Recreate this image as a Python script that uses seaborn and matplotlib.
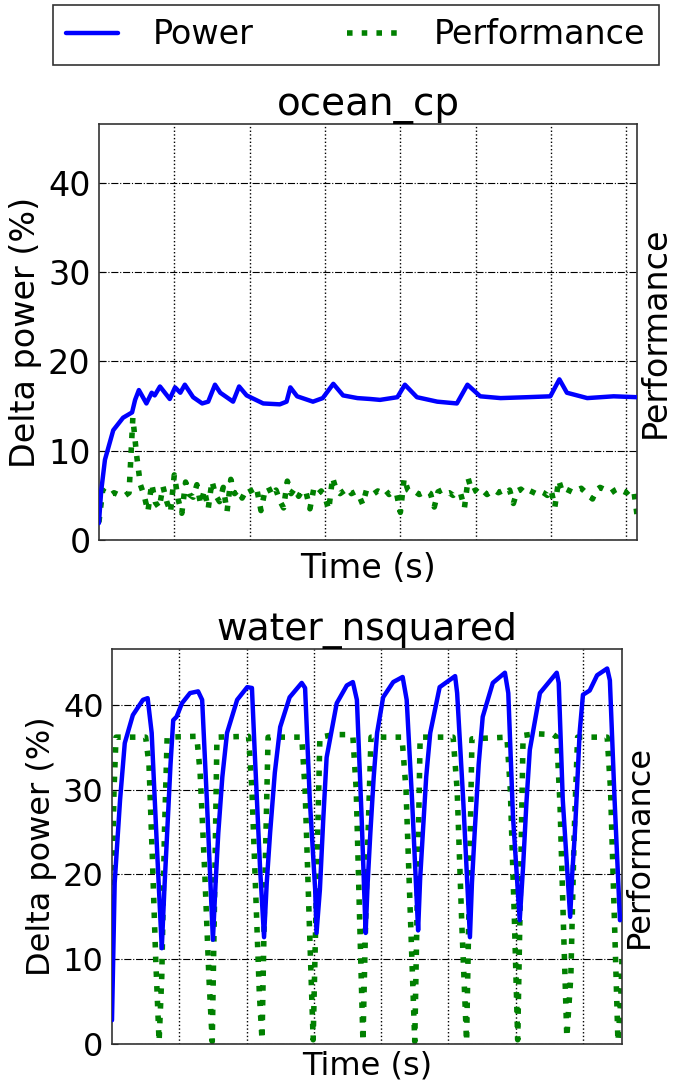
import matplotlib
matplotlib.use("Agg")
import matplotlib.pyplot as plt
import numpy as np
import seaborn as sns

# ---- ocean_cp (top panel) ----
ocean_power_t = [0.00, 0.03, 0.08, 0.19, 0.32, 0.44, 0.48, 0.53, 0.63, 0.70, 0.74, 0.81,
                 0.94, 1.01, 1.08, 1.14, 1.25, 1.37, 1.45, 1.54, 1.61, 1.78, 1.86, 1.96,
                 2.18, 2.40, 2.49, 2.54, 2.63, 2.84, 2.97, 3.11, 3.24, 3.43, 3.60, 3.73,
                 3.96, 4.06, 4.22, 4.49, 4.75, 4.89, 5.06, 5.33, 5.68, 5.99, 6.11, 6.21,
                 6.48, 6.83, 7.14]
ocean_power = [1.9, 5.5, 9.0, 12.3, 13.7, 14.3, 15.7, 16.8, 15.3, 16.5, 16.2, 17.2,
               15.8, 17.1, 16.5, 17.4, 16.0, 15.3, 15.5, 17.4, 16.5, 15.5, 17.2, 16.2,
               15.3, 15.2, 15.5, 17.1, 16.1, 15.5, 15.9, 17.5, 16.2, 15.9, 15.8, 15.7,
               16.0, 17.4, 16.0, 15.5, 15.3, 17.4, 16.1, 15.9, 16.0, 16.1, 18.0, 16.5,
               15.9, 16.1, 16.0]

# performance sampled every 0.05 time units
ocean_perf = [2.0, 5.6, 5.2, 5.0, 5.3, 5.1, 5.2, 5.0, 5.3, 13.7,
              9.5, 6.2, 5.0, 3.2, 6.3, 4.2, 3.6, 6.0, 4.3, 3.1,
              7.3, 4.6, 3.0, 6.5, 5.1, 4.8, 6.2, 4.0, 5.6, 3.5,
              6.6, 5.0, 4.3, 5.9, 3.2, 6.8, 5.2, 5.6, 4.7, 5.5,
              5.8, 5.0, 5.5, 3.3, 5.4, 5.9, 5.0, 5.6, 4.4, 3.6,
              6.6, 5.2, 5.8, 4.9, 5.6, 5.3, 3.5, 5.7, 5.1, 5.5,
              4.8, 3.4, 7.0, 5.6, 5.2, 5.5, 5.8, 5.2, 5.4, 5.0,
              4.0, 5.6, 5.4, 5.2, 5.5, 5.3, 5.6, 5.1, 5.4, 5.2,
              3.1, 6.9, 5.6, 5.3, 5.4, 5.1, 5.3, 5.5, 5.2, 3.7,
              5.4, 5.6, 5.2, 5.3, 5.0, 5.4, 5.2, 3.6, 6.9, 5.4,
              5.6, 5.2, 5.5, 5.1, 5.4, 5.6, 5.3, 5.5, 5.2, 5.6,
              4.1, 5.5, 5.7, 5.3, 5.6, 5.4, 5.2, 5.5, 5.3, 5.0,
              5.6, 3.7, 6.7, 5.4, 5.7, 5.5, 5.3, 5.6, 5.8, 5.4,
              5.0, 4.6, 5.6, 5.9, 5.7, 5.5, 5.3, 5.6, 5.8, 5.5,
              5.3, 5.7, 5.4, 2.2]
ocean_perf_t = np.arange(len(ocean_perf)) * 0.05

# ---- water_nsquared (bottom panel) ----
water_power_t = [0.00, 0.04, 0.12, 0.19, 0.31, 0.46, 0.53, 0.59, 0.67, 0.74, 0.78, 0.82,
                 0.87, 0.91, 0.96, 1.04, 1.16, 1.28, 1.34, 1.41, 1.50, 1.54, 1.58, 1.64,
                 1.71, 1.86, 2.01, 2.08, 2.12, 2.20, 2.26, 2.30, 2.35, 2.42, 2.50, 2.64,
                 2.82, 2.87, 2.94, 3.02, 3.04, 3.09, 3.14, 3.19, 3.34, 3.49, 3.58, 3.64,
                 3.71, 3.77, 3.80, 3.84, 3.89, 3.94, 4.03, 4.18, 4.32, 4.38, 4.46, 4.55,
                 4.58, 4.62, 4.67, 4.73, 4.87, 5.10, 5.13, 5.22, 5.32, 5.35, 5.39, 5.45,
                 5.51, 5.66, 5.84, 5.89, 5.96, 6.06, 6.11, 6.16, 6.21, 6.36, 6.61, 6.64,
                 6.70, 6.81, 6.84, 6.88, 6.92, 6.95, 7.00, 7.10, 7.21, 7.36, 7.40, 7.47,
                 7.55]
water_power = [2.8, 19.0, 28.8, 35.5, 38.8, 40.6, 40.8, 36.7, 22.9, 11.3, 18.5, 24.9,
               33.0, 38.2, 38.6, 40.2, 41.4, 41.6, 40.6, 28.8, 12.3, 19.0, 24.9, 31.5,
               36.7, 40.6, 42.1, 42.0, 34.7, 20.9, 12.6, 19.0, 24.9, 32.0, 37.4, 40.9,
               42.6, 42.0, 28.8, 18.2, 13.1, 18.2, 26.5, 33.8, 40.2, 42.3, 42.7, 40.6,
               26.8, 13.1, 19.0, 24.9, 31.5, 36.7, 40.9, 42.7, 43.3, 40.6, 28.8, 13.4,
               19.5, 24.9, 31.5, 36.7, 42.1, 43.4, 41.4, 28.8, 12.6, 19.0, 24.9, 33.0,
               38.6, 42.6, 43.8, 41.4, 26.8, 14.6, 20.9, 28.5, 34.7, 41.4, 43.8, 42.6,
               28.8, 15.0, 20.0, 24.9, 31.5, 36.7, 41.2, 41.7, 43.5, 44.3, 42.9, 28.8,
               14.6]

water_perf_t = [0.00, 0.03, 0.06, 0.50, 0.55, 0.60, 0.65, 0.70, 0.74, 0.78, 0.82,
                1.26, 1.31, 1.38, 1.44, 1.49, 1.52, 1.56,
                2.03, 2.08, 2.14, 2.19, 2.23, 2.27, 2.32,
                2.82, 2.87, 2.93, 2.99, 3.03, 3.09,
                3.30, 3.50, 3.58, 3.63, 3.68, 3.73, 3.78, 3.85,
                4.31, 4.37, 4.44, 4.50, 4.54, 4.58,
                5.07, 5.13, 5.20, 5.27, 5.31, 5.35,
                5.87, 5.92, 5.98, 6.03, 6.07, 6.11, 6.30, 6.56,
                6.61, 6.66, 6.71, 6.76, 6.82, 6.87, 6.92,
                7.36, 7.41, 7.47, 7.52, 7.56, 7.58]
water_perf = [17.0, 30.0, 36.2, 36.2, 33.0, 22.0, 10.0, 0.3, 8.0, 25.0, 36.2,
              36.3, 32.0, 20.0, 8.0, 0.3, 15.0, 36.2,
              36.3, 30.0, 17.0, 6.0, 0.5, 18.0, 36.2,
              36.2, 30.0, 15.0, 0.5, 15.0, 36.2,
              36.5, 36.5, 36.3, 30.0, 15.0, 0.3, 18.0, 36.2,
              36.2, 30.0, 14.0, 0.3, 18.0, 36.2,
              36.2, 30.0, 14.0, 0.3, 18.0, 36.0,
              36.2, 30.0, 15.0, 0.5, 18.0, 36.4, 36.6, 36.5,
              36.2, 28.0, 14.0, 0.8, 8.0, 25.0, 36.2,
              36.2, 30.0, 14.0, 0.3, 5.0, 10.0]

panels = [
    ("ocean_cp", ocean_power_t, ocean_power, ocean_perf_t, ocean_perf, 7.14,
     [0.147, 0.5018, 0.7995, 0.3838], 24, 28, 5),
    ("water_nsquared", water_power_t, water_power, water_perf_t, water_perf, 7.58,
     [0.1664, 0.0369, 0.7578, 0.3644], 23, 27, 1),
]

sns.set_style("white")
plt.rcParams['font.family'] = ['DejaVu Sans']
plt.rcParams['text.color'] = 'black'
plt.rcParams['axes.labelcolor'] = 'black'
plt.rcParams['xtick.color'] = 'black'
plt.rcParams['ytick.color'] = 'black'

fig = plt.figure(figsize=(6.73, 10.84), dpi=100)

for title, pt, pv, qt, qv, xmax, rect, fs, tfs, xpad in panels:
    ax = fig.add_axes(rect)
    sns.lineplot(x=pt, y=pv, ax=ax, color="#0000ff", linewidth=3.2, label="Power",
                 legend=False, zorder=3)
    sns.lineplot(x=qt, y=qv, ax=ax, color="#008000", linewidth=4, linestyle=":",
                 label="Performance", legend=False, zorder=2)
    ax.set_xlim(0, xmax)
    ax.set_ylim(0, 46.6)
    ax.set_xticks(np.arange(1, int(xmax) + 1))
    ax.set_xticklabels([])
    ax.set_yticks([0, 10, 20, 30, 40])
    ax.tick_params(axis="y", labelsize=fs, length=4, direction="in", pad=6)
    ax.tick_params(axis="x", length=4, direction="in")
    ax.xaxis.grid(True, color="black", linestyle=":", linewidth=1)
    ax.yaxis.grid(True, color="black", linestyle="-.", linewidth=0.8)
    ax.set_axisbelow(True)
    for s in ax.spines.values():
        s.set_color("#333333")
        s.set_linewidth(1.2)
    ax.set_xlabel("Time (s)", fontsize=fs, labelpad=xpad)
    ax.set_ylabel("Delta power (%)", fontsize=fs, labelpad=4)
    ax.set_title(title, fontsize=tfs, pad=4)

    ax2 = ax.twinx()
    ax2.set_ylim(0, 46.6)
    ax2.set_yticks([])
    ax2.set_ylabel("Performance", fontsize=fs, labelpad=1)
    ax2.grid(False)
    for s in ax2.spines.values():
        s.set_visible(False)

handles, labels = ax.get_legend_handles_labels()
leg = fig.legend(handles, labels, loc="center", bbox_to_anchor=(0.529, 0.968), ncol=2,
                 fontsize=24, frameon=True, fancybox=False, edgecolor="black",
                 handlelength=1.55, handletextpad=1.05, columnspacing=2.8,
                 borderpad=0.4, borderaxespad=0)
leg.get_frame().set_linewidth(1.2)

fig.savefig("out.png", dpi=100)
